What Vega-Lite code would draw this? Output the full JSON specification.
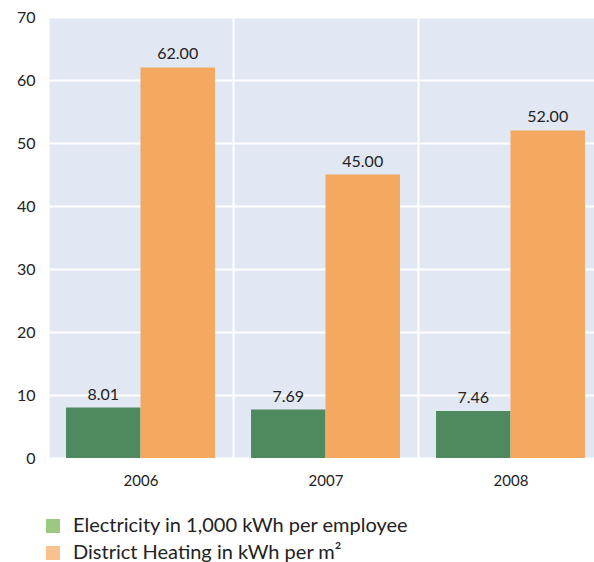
{
  "$schema": "https://vega.github.io/schema/vega-lite/v6.json",
  "autosize": {"type": "none"},
  "padding": {"left": 48, "top": 17, "right": 0, "bottom": 104},
  "width": 555,
  "height": 441,
  "background": "white",
  "config": {
    "view": {"fill": "#e1e7f3", "stroke": null},
    "font": "Lato"
  },
  "data": {
    "values": [
      {"year": "2006", "series": "Electricity in 1,000 kWh per employee", "value": 8.01},
      {"year": "2006", "series": "District Heating in kWh per m²", "value": 62.0},
      {"year": "2007", "series": "Electricity in 1,000 kWh per employee", "value": 7.69},
      {"year": "2007", "series": "District Heating in kWh per m²", "value": 45.0},
      {"year": "2008", "series": "Electricity in 1,000 kWh per employee", "value": 7.46},
      {"year": "2008", "series": "District Heating in kWh per m²", "value": 52.0}
    ]
  },
  "encoding": {
    "x": {
      "field": "year", "type": "nominal",
      "scale": {"paddingInner": 0, "paddingOuter": 0},
      "axis": {
        "title": null, "labelAngle": 0, "ticks": false, "domain": false,
        "grid": true, "tickBand": "extent", "gridColor": "white", "gridWidth": 2, "gridOpacity": 1,
        "labelFontSize": 15, "labelColor": "#222222", "labelPadding": 15, "labelFont": "Lato"
      }
    },
    "xOffset": {
      "field": "series", "type": "nominal",
      "sort": ["Electricity in 1,000 kWh per employee", "District Heating in kWh per m²"],
      "scale": {"paddingInner": 0, "paddingOuter": 0.242}
    },
    "y": {
      "field": "value", "type": "quantitative",
      "scale": {"domain": [0, 70], "nice": false},
      "axis": {
        "title": null, "values": [0, 10, 20, 30, 40, 50, 60, 70], "ticks": false, "domain": false,
        "grid": true, "gridColor": "white", "gridWidth": 2, "gridOpacity": 1,
        "labelFontSize": 16, "labelColor": "#222222", "labelPadding": 13, "labelFont": "Lato"
      }
    }
  },
  "layer": [
    {
      "mark": {"type": "point", "shape": "square", "filled": true, "size": 0},
      "encoding": {
        "fill": {
          "field": "series", "type": "nominal",
          "scale": {
            "domain": ["Electricity in 1,000 kWh per employee", "District Heating in kWh per m²"],
            "range": ["#9dc880", "#f9c18f"]
          },
          "legend": {
            "title": null,
            "orient": "none",
            "legendX": -5,
            "legendY": 499,
            "symbolType": "square",
            "symbolSize": 196,
            "symbolOpacity": 1,
            "symbolStrokeWidth": 0,
            "labelFontSize": 20,
            "labelColor": "#222222",
            "labelFont": "Lato",
            "labelOffset": 10,
            "rowPadding": 7,
            "labelLimit": 520
          }
        }
      }
    },
    {
      "mark": {"type": "bar"},
      "encoding": {
        "color": {
          "field": "series", "type": "nominal",
          "scale": {
            "domain": ["Electricity in 1,000 kWh per employee", "District Heating in kWh per m²"],
            "range": ["#4f8a5f", "#f5a860"]
          },
          "legend": null
        }
      }
    },
    {
      "mark": {"type": "text", "dy": -13, "fontSize": 16, "color": "#222222", "font": "Lato"},
      "encoding": {
        "text": {"field": "value", "type": "quantitative", "format": ".2f"}
      }
    }
  ]
}
